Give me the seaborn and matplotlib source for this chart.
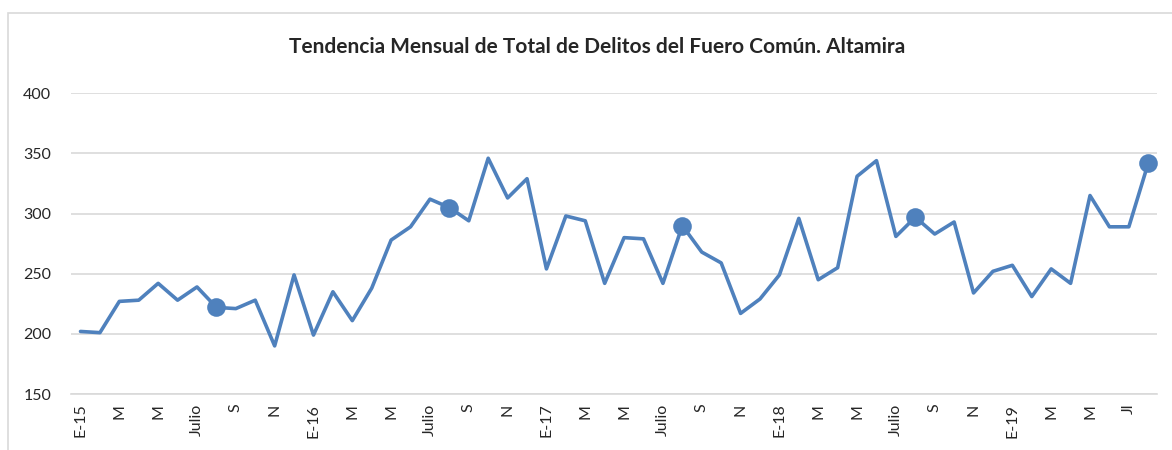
import numpy as np
import pandas as pd
import matplotlib
matplotlib.use("Agg")
import matplotlib.pyplot as plt
import seaborn as sns
from matplotlib.patches import Rectangle

# monthly totals, Jan 2015 - Aug 2019
valores = [202, 201, 227, 228, 242, 228, 239, 222, 221, 228, 190, 249,
           199, 235, 211, 238, 278, 289, 312, 305, 294, 346, 313, 329,
           254, 298, 294, 242, 280, 279, 242, 290, 268, 259, 217, 229,
           249, 296, 245, 255, 331, 344, 281, 297, 283, 293, 234, 252,
           257, 231, 254, 242, 315, 289, 289, 342]
etiquetas = ["E-15", "M", "M", "Julio", "S", "N",
             "E-16", "M", "M", "Julio", "S", "N",
             "E-17", "M", "M", "Julio", "S", "N",
             "E-18", "M", "M", "Julio", "S", "N",
             "E-19", "M", "M", "Jl"]
marcados = [7, 19, 31, 43, 55]  # agosto de cada año

df = pd.DataFrame({"mes": np.arange(len(valores)), "total": valores})
dm = df.iloc[marcados]

sns.set_style("white")
plt.rcParams["font.family"] = ["Lato", "DejaVu Sans"]

azul = "#4F81BD"
fig = plt.figure(figsize=(11.72, 4.5), dpi=100)
ax = fig.add_axes([70.8 / 1172, 1 - 394 / 450, (1157 - 70.8) / 1172, (394 - 93.3) / 450])

sns.lineplot(data=df, x="mes", y="total", color=azul, linewidth=2.6, ax=ax)
sns.scatterplot(data=dm, x="mes", y="total", color=azul, s=180, edgecolor=azul,
                linewidth=0, ax=ax, zorder=3)

ax.set_xlim(-0.5, 55.45)
ax.set_ylim(150, 400)
ax.set_yticks(range(150, 401, 50))
ax.set_xticks(range(0, len(etiquetas) * 2, 2))
ax.set_xticklabels(etiquetas, rotation=90, fontsize=11.5)
ax.tick_params(axis="y", labelsize=11.5, length=0, pad=14)
ax.tick_params(axis="x", length=0, pad=7)
ax.grid(axis="y", color="#D9D9D9", linewidth=1.2)
ax.set_axisbelow(True)
for s in ["top", "right", "left"]:
    ax.spines[s].set_visible(False)
ax.spines["bottom"].set_color("#D9D9D9")
ax.spines["bottom"].set_linewidth(1.2)
ax.set_xlabel("")
ax.set_ylabel("")

fig.text(597 / 1172, 1 - 47 / 450, "Tendencia Mensual de Total de Delitos del Fuero Común. Altamira",
         ha="center", va="center", fontsize=15, fontweight="bold")

fig.patches.append(Rectangle((8 / 1172, -0.1), 1.2, 1 - 13 / 450 + 0.1, transform=fig.transFigure,
                             fill=False, edgecolor="#D9D9D9", linewidth=1.2))

fig.savefig("out.png", dpi=100)
